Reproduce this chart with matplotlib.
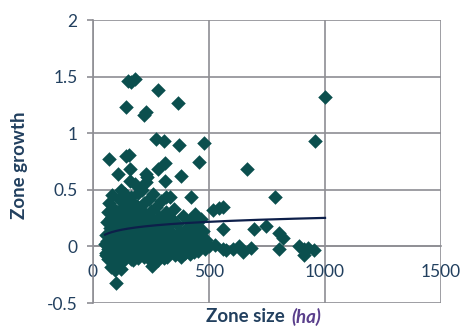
import numpy as np
import matplotlib
matplotlib.use("Agg")
import matplotlib.pyplot as plt

# zone size (ha) and zone growth for each zone
zone_size = [
    # scattered high / far points
    151, 179, 165, 280, 366, 141, 227, 222, 1000, 957, 270, 308, 370, 478,
    456, 311, 280, 663, 380, 311, 786, 143, 155, 69, 108, 158, 161, 227,
    232, 316, 330, 423, 438, 517, 542, 560, 560, 693, 746, 803, 821, 801,
    890, 911, 925, 954, 911, 681, 631, 603, 574, 560, 646, 502, 524, 255,
    100, 79, 93, 122,
    # dense block of small zones
    52, 55, 58, 60, 62, 64, 66, 68, 70, 72, 74, 76, 78, 80, 82, 84, 86, 88,
    90, 92, 94, 96, 98, 100,
    102, 104, 106, 108, 110, 112, 114, 116, 118, 120, 122, 124, 126, 128,
    130, 132, 134, 136, 138, 140, 142, 144, 146, 148, 150,
    152, 154, 156, 158, 160, 162, 164, 166, 168, 170, 172, 174, 176, 178,
    180, 182, 184, 186, 188, 190, 192, 194, 196, 198, 200,
    203, 206, 209, 212, 215, 218, 221, 224, 227, 230, 233, 236, 239, 242,
    245, 248, 251, 254, 257, 260,
    264, 268, 272, 276, 280, 284, 288, 292, 296, 300, 305, 310, 315, 320,
    325, 330, 335, 340, 345, 350,
    356, 362, 368, 374, 380, 386, 392, 398, 404, 410, 416, 422, 428, 434,
    440, 446, 452, 458, 464, 470, 476, 482, 488,
    # zones with growth close to zero
    54, 59, 63, 67, 71, 75, 79, 83, 87, 91, 95, 99, 103, 107, 111, 115,
    119, 123, 127, 131, 135, 139, 143, 147,
    153, 159, 165, 171, 177, 183, 189, 195, 201, 207, 213, 219, 225, 231,
    237, 243, 249, 255, 261, 267, 273, 279, 285, 291, 297, 303, 309, 318,
    327, 336, 345, 354, 363, 372, 381, 390, 399, 408, 417, 426, 435, 444,
]
zone_growth = [
    1.46, 1.48, 1.45, 1.38, 1.27, 1.23, 1.19, 1.16, 1.32, 0.93, 0.95, 0.93, 0.90, 0.91,
    0.75, 0.74, 0.68, 0.68, 0.62, 0.58, 0.44, 0.80, 0.81, 0.77, 0.64, 0.68, 0.58, 0.64,
    0.61, 0.44, 0.44, 0.44, 0.29, 0.32, 0.34, 0.35, 0.15, 0.15, 0.18, 0.12, 0.07, -0.02,
    0.00, -0.02, -0.01, -0.03, -0.08, -0.01, 0.00, -0.02, -0.03, -0.02, -0.05, 0.00, 0.01, -0.17,
    -0.32, -0.18, -0.21, -0.20,
    0.02, 0.10, -0.06, 0.22, 0.05, 0.30, -0.02, 0.38, 0.08, -0.10, 0.16, 0.00, 0.25, 0.45,
    -0.13, 0.04, 0.12, -0.04, -0.08, 0.33, 0.01, 0.18, -0.14, 0.06,
    0.30, -0.03, 0.15, -0.09, 0.42, 0.03, 0.22, -0.15, 0.08, 0.50, -0.01, 0.19, -0.06, 0.35,
    0.05, 0.12, -0.10, 0.26, 0.00, 0.46, 0.09, -0.04, 0.17, 0.38, -0.02,
    0.19, -0.06, 0.35, 0.10, 0.29, -0.11, 0.44, 0.07, 0.23, 0.00, 0.38, 0.14, -0.04, 0.31,
    0.55, 0.08, 0.20, -0.08, 0.36, 0.12, 0.27, 0.02, 0.47, 0.16, -0.02,
    0.33, 0.09, 0.22, 0.50, -0.05, 0.14, 0.38, 0.04, 0.28, 0.57, 0.11, -0.03, 0.19, 0.42,
    0.07, 0.31, 0.15, -0.07, 0.24, 0.46,
    0.02, 0.17, 0.35, 0.09, -0.04, 0.26, 0.12, 0.40, 0.05, 0.21, -0.10, 0.14, 0.30, 0.03,
    0.18, 0.08, 0.25, -0.02, 0.11, 0.33,
    0.06, 0.20, -0.05, 0.13, 0.04, 0.27, 0.10, -0.06, 0.16, 0.02, 0.23, 0.07, -0.03, 0.12,
    0.05, 0.19, -0.04, 0.09, 0.24, 0.01, 0.14, -0.02, 0.06,
    -0.08, 0.03, -0.11, 0.01, -0.04, 0.07, -0.09, 0.02, -0.12, 0.05, -0.06, 0.00, -0.10, 0.04,
    -0.05, 0.06, -0.12, 0.02, -0.08, 0.03, -0.03, -0.11, 0.05, -0.07,
    0.02, -0.08, 0.05, -0.12, 0.01, -0.05, 0.06, -0.10, 0.03, -0.04, 0.07, -0.09, 0.00, -0.06,
    0.04, -0.11, 0.02, -0.03, 0.06, -0.08, 0.01, -0.12, 0.04, -0.05, 0.00, -0.07, 0.03, -0.09,
    0.05, -0.04, 0.01, -0.08, 0.04, -0.02, -0.09, 0.03, -0.04, 0.06, -0.07, 0.01, -0.05, 0.03,
]

x_ticks = [0, 500, 1000, 1500]
y_ticks = [-0.5, 0, 0.5, 1, 1.5, 2]

plt.rcParams['font.family'] = ['Lato', 'DejaVu Sans']

text_col = '#22405f'
grid_col = '#8e8e94'
dot_col = '#0b4f4e'

x = np.array(zone_size, dtype=float)
y = np.array(zone_growth, dtype=float)

fig = plt.figure(figsize=(4.61, 3.29), dpi=100)
ax = fig.add_axes([0.2017, 0.079, 0.755, 0.860])

ax.scatter(x, y, marker='D', s=55, color=dot_col, linewidths=0, zorder=3)

# logarithmic trend line over the data range
slope, icept = np.polyfit(np.log(x), y, 1)
xt = np.linspace(x.min(), x.max(), 200)
ax.plot(xt, slope * np.log(xt) + icept, color='#0d1f4a', lw=1.6, zorder=4)

ax.set_xlim(0, 1500)
ax.set_ylim(-0.5, 2)
ax.set_xticks(x_ticks)
ax.set_yticks(y_ticks)
ax.set_yticklabels(['-0.5', '0', '0.5', '1', '1.5', '2'])
ax.grid(True, color=grid_col, lw=1.2)
ax.set_axisbelow(True)

for s in ['top', 'right']:
    ax.spines[s].set_visible(False)
ax.spines['bottom'].set_position(('data', 0))
ax.spines['bottom'].set_color(grid_col)
ax.spines['left'].set_color(grid_col)
ax.spines['bottom'].set_linewidth(1.2)
ax.spines['left'].set_linewidth(1.2)

ax.tick_params(axis='y', direction='out', length=4, width=1.2, color=grid_col,
               pad=7, labelsize=12.5, labelcolor=text_col)
ax.tick_params(axis='x', direction='out', length=0, pad=13,
               labelsize=12.5, labelcolor=text_col)

fig.text(20 / 461, 1 - 165 / 329, 'Zone growth', rotation=90, ha='center', va='center',
         fontsize=13.5, fontweight='bold', color=text_col)
fig.text(289 / 461, 1 - 317 / 329, 'Zone size ', ha='right', va='center',
         fontsize=13.5, fontweight='bold', color=text_col)
fig.text(291 / 461, 1 - 317 / 329, '(ha)', ha='left', va='center',
         fontsize=13.5, fontweight='bold', fontstyle='italic', color='#5a3f8c')

fig.savefig('out.png', dpi=100)
